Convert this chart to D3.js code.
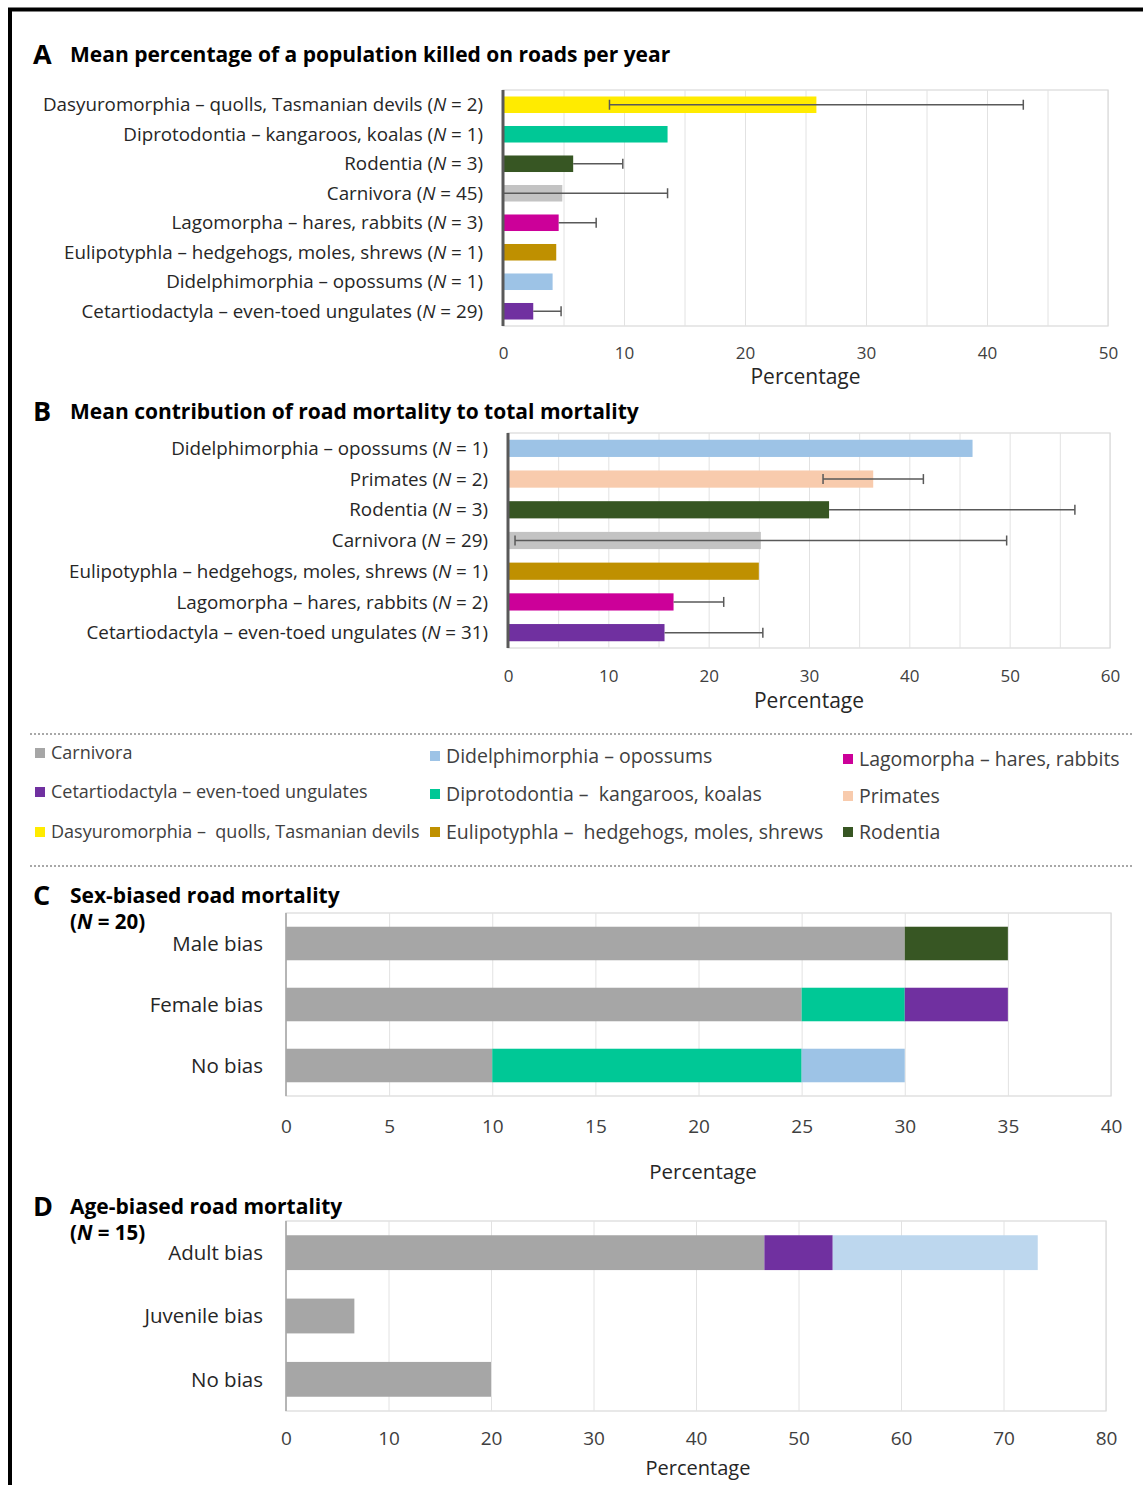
<!DOCTYPE html>
<html><head><meta charset="utf-8">
<script src="https://cdn.jsdelivr.net/npm/d3@7"></script>
<style>
body{margin:0;background:#fff}
svg{display:block}
text{font-family:'Open Sans',Lato,sans-serif}
</style>
</head><body>
<svg id="chart" width="1143" height="1485"></svg>
<script>
// ---------------- DATA ----------------
// Panel A: mean % of a population killed on roads per year
const keysA = ["Dasyuromorphia","Diprotodontia","Rodentia","Carnivora","Lagomorpha","Eulipotyphla","Didelphimorphia","Cetartiodactyla"];
const namesA = ["Dasyuromorphia – quolls, Tasmanian devils","Diprotodontia – kangaroos, koalas","Rodentia","Carnivora","Lagomorpha – hares, rabbits","Eulipotyphla – hedgehogs, moles, shrews","Didelphimorphia – opossums","Cetartiodactyla – even-toed ungulates"];
const nA = [2,1,3,45,3,1,1,29];
const meanA = [25.9,13.6,5.8,4.9,4.6,4.4,4.1,2.5];
const errPlusA = [17.1,0,4.1,8.7,3.1,0,0,2.3];
const errMinusA = [17.1,0,0,4.9,0,0,0,0];
const ticksA = [0,10,20,30,40,50];

// Panel B: mean contribution of road mortality to total mortality
const keysB = ["Didelphimorphia","Primates","Rodentia","Carnivora","Eulipotyphla","Lagomorpha","Cetartiodactyla"];
const namesB = ["Didelphimorphia – opossums","Primates","Rodentia","Carnivora","Eulipotyphla – hedgehogs, moles, shrews","Lagomorpha – hares, rabbits","Cetartiodactyla – even-toed ungulates"];
const nB = [1,2,3,29,1,2,31];
const meanB = [46.3,36.4,32.0,25.2,25.0,16.5,15.6];
const errPlusB = [0,5.0,24.5,24.5,0,5.0,9.8];
const errMinusB = [0,5.0,0,24.5,0,0,0];
const ticksB = [0,10,20,30,40,50,60];

// Legend (column-major order)
const legendKeys = ["Carnivora","Cetartiodactyla","Dasyuromorphia","Didelphimorphia","Diprotodontia","Eulipotyphla","Lagomorpha","Primates","Rodentia"];
const legendLabels = ["Carnivora","Cetartiodactyla – even-toed ungulates","Dasyuromorphia –  quolls, Tasmanian devils","Didelphimorphia – opossums","Diprotodontia –  kangaroos, koalas","Eulipotyphla –  hedgehogs, moles, shrews","Lagomorpha – hares, rabbits","Primates","Rodentia"];

// Panel C: sex-biased road mortality (N = 20)
const catsC = ["Male bias","Female bias","No bias"];
const stackKeysC = ["Carnivora","Diprotodontia","Didelphimorphia","Cetartiodactyla","Rodentia"];
const sexCarnivora = [30,25,10];
const sexDiprotodontia = [0,5,15];
const sexDidelphimorphia = [0,0,5];
const sexCetartiodactyla = [0,5,0];
const sexRodentia = [5,0,0];
const ticksC = [0,5,10,15,20,25,30,35,40];

// Panel D: age-biased road mortality (N = 15)
const catsD = ["Adult bias","Juvenile bias","No bias"];
const stackKeysD = ["Carnivora","Cetartiodactyla","Didelphimorphia"];
const ageCarnivora = [46.67,6.67,20];
const ageCetartiodactyla = [6.67,0,0];
const ageDidelphimorphia = [20,0,0];
const ticksD = [0,10,20,30,40,50,60,70,80];

// ---------------- STYLE ----------------
const colors = {
  Carnivora:"#a6a6a6", Cetartiodactyla:"#7030a0", Dasyuromorphia:"#ffeb00",
  Didelphimorphia:"#9dc3e6", Diprotodontia:"#00c896", Eulipotyphla:"#bf9000",
  Lagomorpha:"#cc0099", Primates:"#f8cbad", Rodentia:"#375623"
};
const barColorAB = k => k === "Carnivora" ? "#c3c3c3" : colors[k];
const FONT = "'Open Sans',Lato,sans-serif";
const TXT = "#262626", TICK = "#404040", GRID = "#e2e2e2", FRAME = "#d9d9d9";

const svg = d3.select("#chart");

// outer frame (left + top)
svg.append("path").attr("d","M10,1485 L10,9.5 L1143,9.5")
  .attr("fill","none").attr("stroke","#000").attr("stroke-width",4);

function panelTitle(letter, title, y, sub){
  svg.append("text").attr("x",33).attr("y",y+2).attr("font-size",27).attr("font-weight","bold")
    .attr("fill","#000").text(letter);
  svg.append("text").attr("x",70).attr("y",y).attr("font-size",21).attr("font-weight","bold")
    .attr("fill","#000").text(title);
  if(sub){
    const t = svg.append("text").attr("x",70).attr("y",y+26).attr("font-size",20.5).attr("font-weight","bold").attr("fill","#000");
    t.append("tspan").text("(");
    t.append("tspan").attr("font-style","italic").text("N");
    t.append("tspan").text(" = " + sub + ")");
  }
}

function frameAndGrid(g, x, w, h, gridVals){
  g.append("rect").attr("x",0).attr("y",0).attr("width",w).attr("height",h)
    .attr("fill","none").attr("stroke",FRAME).attr("stroke-width",1.2);
  g.append("g").attr("transform",`translate(0,${h})`)
    .call(d3.axisBottom(x).tickValues(gridVals).tickSize(-h).tickFormat(""))
    .call(s=>{s.select(".domain").remove(); s.selectAll("line").attr("stroke",GRID).attr("stroke-width",1);});
}

function tickAxis(g, x, h, vals, baselineOffset, fs){
  const ax = g.append("g").attr("transform",`translate(0,${h})`)
    .call(d3.axisBottom(x).tickValues(vals).tickSize(0).tickPadding(baselineOffset - 0.71*fs));
  ax.select(".domain").remove();
  ax.selectAll("text").attr("font-size",fs).attr("font-family",FONT).attr("fill",TICK);
}

function xLabel(cx, y, fs){
  svg.append("text").attr("x",cx).attr("y",y).attr("text-anchor","middle")
    .attr("font-size",fs).attr("fill",TXT).text("Percentage");
}

// ---------- Error-bar panels (A, B) ----------
function drawErrPanel(cfg){
  const {left,right,top,bottom,keys,names,ns,means,ep,em,ticks,gridVals,labelRight,tickBase,xlabY} = cfg;
  const w = right-left, h = bottom-top;
  const x = d3.scaleLinear().domain([0, ticks[ticks.length-1]]).range([0,w]);
  const y = d3.scaleBand().domain(d3.range(keys.length)).range([0,h]).paddingInner(0.44).paddingOuter(0.22);
  const g = svg.append("g").attr("transform",`translate(${left},${top})`);
  frameAndGrid(g, x, w, h, gridVals);
  g.selectAll("rect.bar").data(means).join("rect").attr("class","bar")
    .attr("x",0).attr("y",(d,i)=>y(i)).attr("width",d=>x(d)).attr("height",y.bandwidth())
    .attr("fill",(d,i)=>barColorAB(keys[i]));
  // error bars
  const eb = g.append("g").attr("stroke","#595959").attr("stroke-width",1.5);
  means.forEach((m,i)=>{
    if(!ep[i] && !em[i]) return;
    const cy = y(i)+y.bandwidth()/2;
    const lo = Math.max(0, m - em[i]), hi = m + ep[i];
    eb.append("line").attr("x1",x(lo)).attr("x2",x(hi)).attr("y1",cy).attr("y2",cy);
    if(ep[i]) eb.append("line").attr("x1",x(hi)).attr("x2",x(hi)).attr("y1",cy-5).attr("y2",cy+5);
    if(em[i] && lo > 0.3) eb.append("line").attr("x1",x(lo)).attr("x2",x(lo)).attr("y1",cy-5).attr("y2",cy+5);
  });
  // category axis line
  g.append("line").attr("x1",0).attr("x2",0).attr("y1",0).attr("y2",h)
    .attr("stroke","#595959").attr("stroke-width",3);
  // category labels
  names.forEach((nm,i)=>{
    const t = svg.append("text").attr("x",labelRight).attr("y",top+y(i)+y.bandwidth()/2)
      .attr("dy","0.35em").attr("text-anchor","end").attr("font-size",18.8).attr("fill",TXT);
    t.append("tspan").text(nm + " (");
    t.append("tspan").attr("font-style","italic").text("N");
    t.append("tspan").text(" = " + ns[i] + ")");
  });
  tickAxis(g, x, h, ticks, tickBase, 17);
  xLabel(left + w/2, xlabY, 21);
}

panelTitle("A","Mean percentage of a population killed on roads per year",62);
drawErrPanel({left:503,right:1108,top:90,bottom:326,keys:keysA,names:namesA,ns:nA,means:meanA,
  ep:errPlusA,em:errMinusA,ticks:ticksA,gridVals:d3.range(5,51,5),labelRight:483,tickBase:33,xlabY:384});

panelTitle("B","Mean contribution of road mortality to total mortality",419);
drawErrPanel({left:508,right:1110,top:433,bottom:648,keys:keysB,names:namesB,ns:nB,means:meanB,
  ep:errPlusB,em:errMinusB,ticks:ticksB,gridVals:d3.range(5,61,5),labelRight:488,tickBase:34,xlabY:708});

// ---------- Legend ----------
[734, 866].forEach(yy=>{
  svg.append("line").attr("x1",30).attr("x2",1133).attr("y1",yy).attr("y2",yy)
    .attr("stroke","#8c8c8c").attr("stroke-width",1.3).attr("stroke-dasharray","2,2");
});
const legColX = [35, 430, 843];
const legColFont = [18, 19.5, 19.5];
const legRowY = [[753,792,832],[756,794,832],[759,796,832]];
legendKeys.forEach((k,i)=>{
  const c = Math.floor(i/3), r = i%3;
  const lx = legColX[c], ly = legRowY[c][r];
  svg.append("rect").attr("x",lx).attr("y",ly-5).attr("width",10).attr("height",10).attr("fill",colors[k]);
  svg.append("text").attr("x",lx+16).attr("y",ly).attr("dy","0.35em").attr("font-size",legColFont[c])
    .attr("fill","#404040").style("white-space","pre").text(legendLabels[i]);
});

// ---------- Stacked panels (C, D) ----------
function drawStackPanel(cfg){
  const {left,right,top,bottom,cats,keys,series,ticks,gridVals,tickBase,xlabX,xlabY,xlabFs,overrides} = cfg;
  const w = right-left, h = bottom-top;
  const x = d3.scaleLinear().domain([0, ticks[ticks.length-1]]).range([0,w]);
  const y = d3.scaleBand().domain(cats).range([0,h]).paddingInner(0.45).paddingOuter(0.225);
  const rows = cats.map((c,i)=>{ const o={cat:c}; keys.forEach(k=>o[k]=series[k][i]); return o; });
  const stacked = d3.stack().keys(keys)(rows);
  const g = svg.append("g").attr("transform",`translate(${left},${top})`);
  frameAndGrid(g, x, w, h, gridVals);
  g.selectAll("g.layer").data(stacked).join("g").attr("class","layer")
    .attr("fill",d=>(overrides && overrides[d.key]) || colors[d.key])
    .selectAll("rect").data(d=>d.filter(s=>s[1]-s[0]>0)).join("rect")
    .attr("x",d=>x(d[0])).attr("width",d=>x(d[1])-x(d[0]))
    .attr("y",d=>y(d.data.cat)).attr("height",y.bandwidth());
  g.append("line").attr("x1",0).attr("x2",0).attr("y1",0).attr("y2",h)
    .attr("stroke","#a6a6a6").attr("stroke-width",1.5);
  cats.forEach(c=>{
    svg.append("text").attr("x",263).attr("y",top+y(c)+y.bandwidth()/2).attr("dy","0.35em")
      .attr("text-anchor","end").attr("font-size",20.5).attr("fill",TXT).text(c);
  });
  tickAxis(g, x, h, ticks, tickBase, 19);
  xLabel(xlabX, xlabY, xlabFs);
}

panelTitle("C","Sex-biased road mortality",903,"20");
drawStackPanel({left:286,right:1111,top:913,bottom:1096,cats:catsC,keys:stackKeysC,
  series:{Carnivora:sexCarnivora,Diprotodontia:sexDiprotodontia,Didelphimorphia:sexDidelphimorphia,
          Cetartiodactyla:sexCetartiodactyla,Rodentia:sexRodentia},
  ticks:ticksC,gridVals:ticksC,tickBase:37,xlabX:703,xlabY:1179,xlabFs:20.5});

panelTitle("D","Age-biased road mortality",1214,"15");
drawStackPanel({left:286,right:1106,top:1221,bottom:1411,cats:catsD,keys:stackKeysD,
  series:{Carnivora:ageCarnivora,Cetartiodactyla:ageCetartiodactyla,Didelphimorphia:ageDidelphimorphia},
  ticks:ticksD,gridVals:ticksD,tickBase:34,xlabX:698,xlabY:1475,xlabFs:20,overrides:{Didelphimorphia:"#bdd7ee"}});
</script>
</body></html>
